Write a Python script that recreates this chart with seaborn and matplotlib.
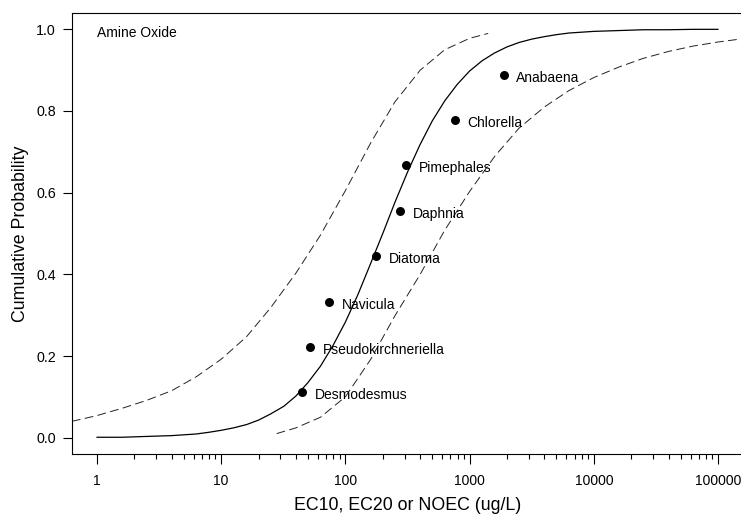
import numpy as np
import pandas as pd
import matplotlib
matplotlib.use("Agg")
import matplotlib.pyplot as plt
import seaborn as sns
from matplotlib.ticker import FixedLocator, NullFormatter

# ---------------- data ----------------
species = ["Desmodesmus", "Pseudokirchneriella", "Navicula", "Diatoma",
           "Daphnia", "Pimephales", "Chlorella", "Anabaena"]
conc = [45, 52, 74, 178, 277, 310, 763, 1880]
prob = [0.111, 0.222, 0.333, 0.444, 0.556, 0.667, 0.778, 0.889]

fit_x = [1, 1.6, 2.5, 4, 6.3, 7.9, 10, 12.6, 16, 20, 25, 32, 40, 50, 63, 79,
         100, 126, 158, 200, 251, 316, 398, 501, 631, 794, 1000, 1260, 1585,
         2000, 2512, 3162, 3981, 5012, 6310, 10000, 15850, 25120, 39810,
         63100, 100000]
fit_y = [0.001, 0.001, 0.003, 0.005, 0.009, 0.013, 0.018, 0.024, 0.032,
         0.043, 0.058, 0.077, 0.102, 0.135, 0.175, 0.224, 0.283, 0.350,
         0.423, 0.500, 0.577, 0.650, 0.717, 0.776, 0.825, 0.865, 0.898,
         0.923, 0.942, 0.957, 0.968, 0.976, 0.982, 0.987, 0.991, 0.995,
         0.997, 0.999, 0.999, 1.000, 1.000]

upper_x = [0.63, 1, 1.6, 2.5, 4, 6.3, 10, 16, 25, 40, 63, 100, 160, 250,
           400, 630, 1000, 1410]
upper_y = [0.040, 0.054, 0.072, 0.091, 0.115, 0.149, 0.192, 0.247, 0.318,
           0.403, 0.496, 0.605, 0.722, 0.822, 0.900, 0.950, 0.978, 0.990]

lower_x = [28, 40, 63, 100, 160, 250, 400, 630, 1000, 1600, 2500, 4000,
           6300, 10000, 16000, 25000, 40000, 63000, 100000, 158000]
lower_y = [0.010, 0.024, 0.050, 0.100, 0.192, 0.298, 0.400, 0.508, 0.603,
           0.690, 0.758, 0.810, 0.850, 0.882, 0.908, 0.929, 0.946, 0.959,
           0.969, 0.977]

x_ticks = [1, 10, 100, 1000, 10000, 100000]
x_tick_labels = ["1", "10", "100", "1000", "10000", "100000"]
y_ticks = [0.0, 0.2, 0.4, 0.6, 0.8, 1.0]
y_tick_labels = ["0.0", "0.2", "0.4", "0.6", "0.8", "1.0"]

title_text = "Amine Oxide"
x_label = "EC10, EC20 or NOEC (ug/L)"
y_label = "Cumulative Probability"

# ---------------- style ----------------
sns.set_theme(style="ticks")
plt.rcParams["font.family"] = ["Liberation Sans", "DejaVu Sans"]
plt.rcParams["axes.linewidth"] = 0.8

W, H = 741, 516
fig = plt.figure(figsize=(W / 100, H / 100), dpi=100)
ax_l, ax_r, ax_t, ax_b = 72, 743, 13, 454
ax = fig.add_axes([ax_l / W, 1 - ax_b / H, (ax_r - ax_l) / W, (ax_b - ax_t) / H])
ax.set_facecolor("white")

ax.set_xscale("log")

df_pts = pd.DataFrame({"species": species, "conc": conc, "prob": prob})
df_fit = pd.DataFrame({"x": fit_x, "y": fit_y})
df_up = pd.DataFrame({"x": upper_x, "y": upper_y})
df_lo = pd.DataFrame({"x": lower_x, "y": lower_y})

sns.lineplot(data=df_fit, x="x", y="y", ax=ax, sort=False, estimator=None,
             color="black", linewidth=0.9)
sns.lineplot(data=df_up, x="x", y="y", ax=ax, sort=False, estimator=None,
             color="#222222", linewidth=0.7, linestyle=(0, (9, 4.5)))
sns.lineplot(data=df_lo, x="x", y="y", ax=ax, sort=False, estimator=None,
             color="#222222", linewidth=0.7, linestyle=(0, (9, 4.5)))
sns.scatterplot(data=df_pts, x="conc", y="prob", ax=ax, color="black",
                s=42, linewidth=0, zorder=5)

for name, cx, cy in zip(species, conc, prob):
    ax.annotate(name, (cx, cy), xytext=(12.5, -3), textcoords="offset pixels",
                ha="left", va="center", fontsize=10, color="black")

ax.text(x_ticks[0], 0.99, title_text, ha="left", va="center", fontsize=10,
        color="black")

ax.set_xlim(10 ** -0.2, 10 ** 5.2)
ax.set_ylim(-0.04, 1.04)

minor_positions = [m * d for d in x_ticks[:-1] for m in range(2, 10)]
ax.xaxis.set_major_locator(FixedLocator(x_ticks))
ax.set_xticklabels(x_tick_labels)
ax.xaxis.set_minor_locator(FixedLocator(minor_positions))
ax.xaxis.set_minor_formatter(NullFormatter())
ax.set_yticks(y_ticks)
ax.set_yticklabels(y_tick_labels)

ax.tick_params(axis="x", which="major", direction="out", length=7, width=0.8,
               pad=7.3, labelsize=10, colors="black")
ax.tick_params(axis="x", which="minor", direction="out", length=3.4, width=0.8,
               colors="black")
ax.tick_params(axis="y", which="major", direction="out", length=6.5, width=0.8,
               pad=5, labelsize=10.3, colors="black")

for s in ax.spines.values():
    s.set_color("black")
    s.set_linewidth(0.8)

ax.set_xlabel(x_label, fontsize=12.8, color="black")
ax.set_ylabel(y_label, fontsize=12.8, color="black")
ax.xaxis.set_label_coords(0.5, -0.0966)
ax.yaxis.set_label_coords(-0.0636, 0.5)

fig.savefig("out.png", dpi=100, facecolor="white")
